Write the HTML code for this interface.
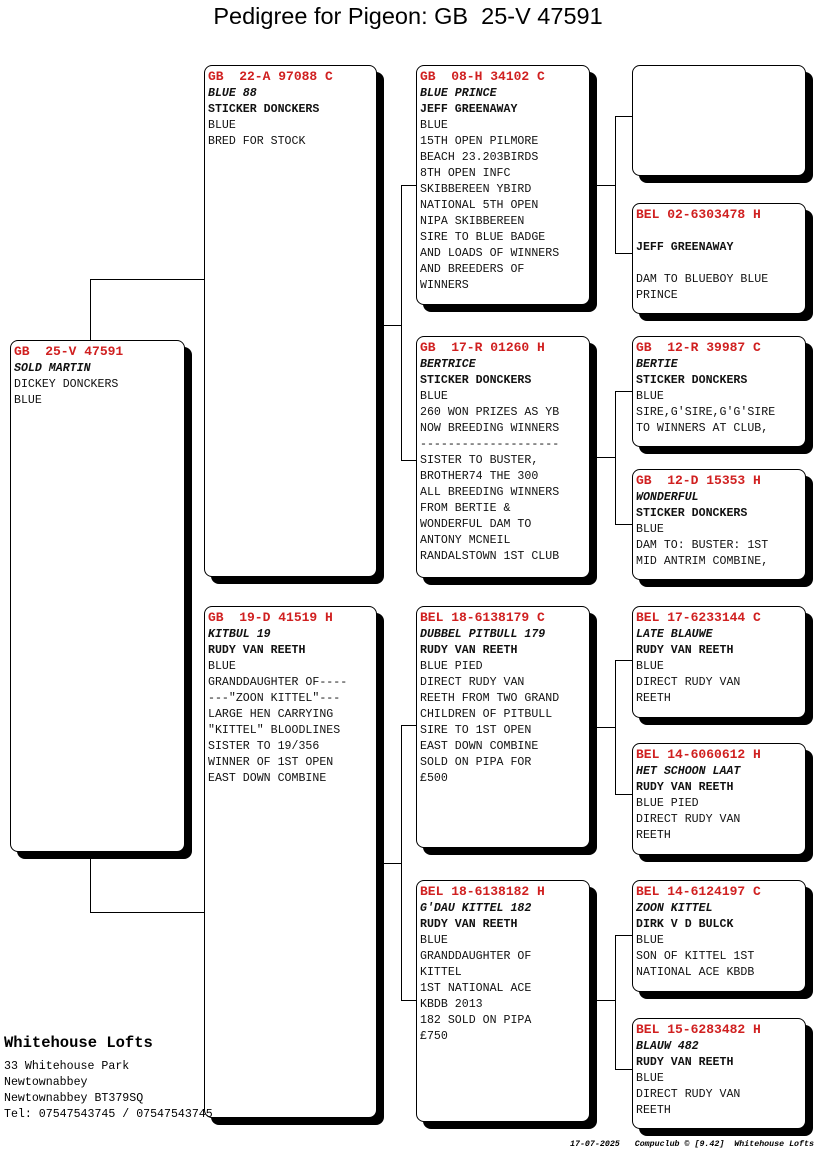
<!DOCTYPE html>
<html><head><meta charset="utf-8"><style>
body{margin:0;width:816px;height:1172px;background:#fff;position:relative;overflow:hidden;font-family:"Liberation Mono",monospace;}
.b{position:absolute;border:1px solid #000;border-radius:8px;box-shadow:7px 7px 0 #000;background:#fff;box-sizing:border-box;padding:3px 0 0 3px;font-size:11.6px;line-height:16px;color:#111;white-space:pre;font-family:"Liberation Mono","Courier New",monospace;}
.r{color:#d02020;font-weight:bold;font-size:13px;}
.i{font-style:italic;font-weight:bold;}
.n{font-weight:bold;}
.l{position:absolute;background:#000;}
.h{height:1px}.v{width:1px}
</style></head><body>
<div style="position:absolute;left:0;width:816px;top:3px;text-align:center;font-family:'Liberation Sans',sans-serif;font-size:23.5px;white-space:pre;">Pedigree for Pigeon: GB  25-V 47591</div>

<!-- connectors -->
<div class="l v" style="left:90px;top:279px;height:61px"></div>
<div class="l h" style="left:90px;top:279px;width:114px"></div>
<div class="l v" style="left:90px;top:858px;height:54px"></div>
<div class="l h" style="left:90px;top:912px;width:114px"></div>

<div class="l v" style="left:401px;top:185px;height:276px"></div>
<div class="l h" style="left:383px;top:325px;width:18px"></div>
<div class="l h" style="left:401px;top:185px;width:15px"></div>
<div class="l h" style="left:401px;top:460px;width:15px"></div>

<div class="l v" style="left:401px;top:725px;height:276px"></div>
<div class="l h" style="left:383px;top:863px;width:18px"></div>
<div class="l h" style="left:401px;top:725px;width:15px"></div>
<div class="l h" style="left:401px;top:1000px;width:15px"></div>

<div class="l v" style="left:615px;top:116px;height:138px"></div>
<div class="l h" style="left:596px;top:185px;width:19px"></div>
<div class="l h" style="left:615px;top:116px;width:17px"></div>
<div class="l h" style="left:615px;top:253px;width:17px"></div>

<div class="l v" style="left:615px;top:391px;height:134px"></div>
<div class="l h" style="left:596px;top:457px;width:19px"></div>
<div class="l h" style="left:615px;top:391px;width:17px"></div>
<div class="l h" style="left:615px;top:524px;width:17px"></div>

<div class="l v" style="left:615px;top:660px;height:135px"></div>
<div class="l h" style="left:596px;top:727px;width:19px"></div>
<div class="l h" style="left:615px;top:660px;width:17px"></div>
<div class="l h" style="left:615px;top:794px;width:17px"></div>

<div class="l v" style="left:615px;top:935px;height:135px"></div>
<div class="l h" style="left:596px;top:1000px;width:19px"></div>
<div class="l h" style="left:615px;top:935px;width:17px"></div>
<div class="l h" style="left:615px;top:1069px;width:17px"></div>

<!-- gen1 -->
<div class="b" style="left:10px;top:340px;width:175px;height:512px"><span class="r">GB  25-V 47591</span>
<span class="i">SOLD MARTIN</span>
DICKEY DONCKERS
BLUE</div>

<!-- gen2 -->
<div class="b" style="left:204px;top:65px;width:173px;height:512px"><span class="r">GB  22-A 97088 C</span>
<span class="i">BLUE 88</span>
<span class="n">STICKER DONCKERS</span>
BLUE
BRED FOR STOCK</div>
<div class="b" style="left:204px;top:606px;width:173px;height:512px"><span class="r">GB  19-D 41519 H</span>
<span class="i">KITBUL 19</span>
<span class="n">RUDY VAN REETH</span>
BLUE
GRANDDAUGHTER OF----
---"ZOON KITTEL"---
LARGE HEN CARRYING
"KITTEL" BLOODLINES
SISTER TO 19/356
WINNER OF 1ST OPEN
EAST DOWN COMBINE</div>

<!-- gen3 -->
<div class="b" style="left:416px;top:65px;width:174px;height:240px"><span class="r">GB  08-H 34102 C</span>
<span class="i">BLUE PRINCE</span>
<span class="n">JEFF GREENAWAY</span>
BLUE
15TH OPEN PILMORE
BEACH 23.203BIRDS
8TH OPEN INFC
SKIBBEREEN YBIRD
NATIONAL 5TH OPEN
NIPA SKIBBEREEN
SIRE TO BLUE BADGE
AND LOADS OF WINNERS
AND BREEDERS OF
WINNERS</div>
<div class="b" style="left:416px;top:336px;width:174px;height:242px"><span class="r">GB  17-R 01260 H</span>
<span class="i">BERTRICE</span>
<span class="n">STICKER DONCKERS</span>
BLUE
260 WON PRIZES AS YB
NOW BREEDING WINNERS
--------------------
SISTER TO BUSTER,
BROTHER74 THE 300
ALL BREEDING WINNERS
FROM BERTIE &amp;
WONDERFUL DAM TO
ANTONY MCNEIL
RANDALSTOWN 1ST CLUB</div>
<div class="b" style="left:416px;top:606px;width:174px;height:242px"><span class="r">BEL 18-6138179 C</span>
<span class="i">DUBBEL PITBULL 179</span>
<span class="n">RUDY VAN REETH</span>
BLUE PIED
DIRECT RUDY VAN
REETH FROM TWO GRAND
CHILDREN OF PITBULL
SIRE TO 1ST OPEN
EAST DOWN COMBINE
SOLD ON PIPA FOR
£500</div>
<div class="b" style="left:416px;top:880px;width:174px;height:242px"><span class="r">BEL 18-6138182 H</span>
<span class="i">G'DAU KITTEL 182</span>
<span class="n">RUDY VAN REETH</span>
BLUE
GRANDDAUGHTER OF
KITTEL
1ST NATIONAL ACE
KBDB 2013
182 SOLD ON PIPA
£750</div>

<!-- gen4 -->
<div class="b" style="left:632px;top:65px;width:174px;height:111px"></div>
<div class="b" style="left:632px;top:203px;width:174px;height:111px"><span class="r">BEL 02-6303478 H</span>

<span class="n">JEFF GREENAWAY</span>

DAM TO BLUEBOY BLUE
PRINCE</div>
<div class="b" style="left:632px;top:336px;width:174px;height:111px"><span class="r">GB  12-R 39987 C</span>
<span class="i">BERTIE</span>
<span class="n">STICKER DONCKERS</span>
BLUE
SIRE,G'SIRE,G'G'SIRE
TO WINNERS AT CLUB,</div>
<div class="b" style="left:632px;top:469px;width:174px;height:111px"><span class="r">GB  12-D 15353 H</span>
<span class="i">WONDERFUL</span>
<span class="n">STICKER DONCKERS</span>
BLUE
DAM TO: BUSTER: 1ST
MID ANTRIM COMBINE,</div>
<div class="b" style="left:632px;top:606px;width:174px;height:112px"><span class="r">BEL 17-6233144 C</span>
<span class="i">LATE BLAUWE</span>
<span class="n">RUDY VAN REETH</span>
BLUE
DIRECT RUDY VAN
REETH</div>
<div class="b" style="left:632px;top:743px;width:174px;height:112px"><span class="r">BEL 14-6060612 H</span>
<span class="i">HET SCHOON LAAT</span>
<span class="n">RUDY VAN REETH</span>
BLUE PIED
DIRECT RUDY VAN
REETH</div>
<div class="b" style="left:632px;top:880px;width:174px;height:112px"><span class="r">BEL 14-6124197 C</span>
<span class="i">ZOON KITTEL</span>
<span class="n">DIRK V D BULCK</span>
BLUE
SON OF KITTEL 1ST
NATIONAL ACE KBDB</div>
<div class="b" style="left:632px;top:1018px;width:174px;height:111px"><span class="r">BEL 15-6283482 H</span>
<span class="i">BLAUW 482</span>
<span class="n">RUDY VAN REETH</span>
BLUE
DIRECT RUDY VAN
REETH</div>

<!-- footer -->
<div style="position:absolute;left:4px;top:1034px;font-size:15.5px;font-weight:bold;white-space:pre;">Whitehouse Lofts</div>
<div style="position:absolute;left:4px;top:1059px;font-size:11.6px;line-height:16px;white-space:pre;">33 Whitehouse Park
Newtownabbey
Newtownabbey BT379SQ
Tel: 07547543745 / 07547543745</div>
<div style="position:absolute;left:570px;top:1140px;font-size:8.3px;font-style:italic;font-weight:bold;white-space:pre;">17-07-2025   Compuclub © [9.42]  Whitehouse Lofts</div>
</body></html>
